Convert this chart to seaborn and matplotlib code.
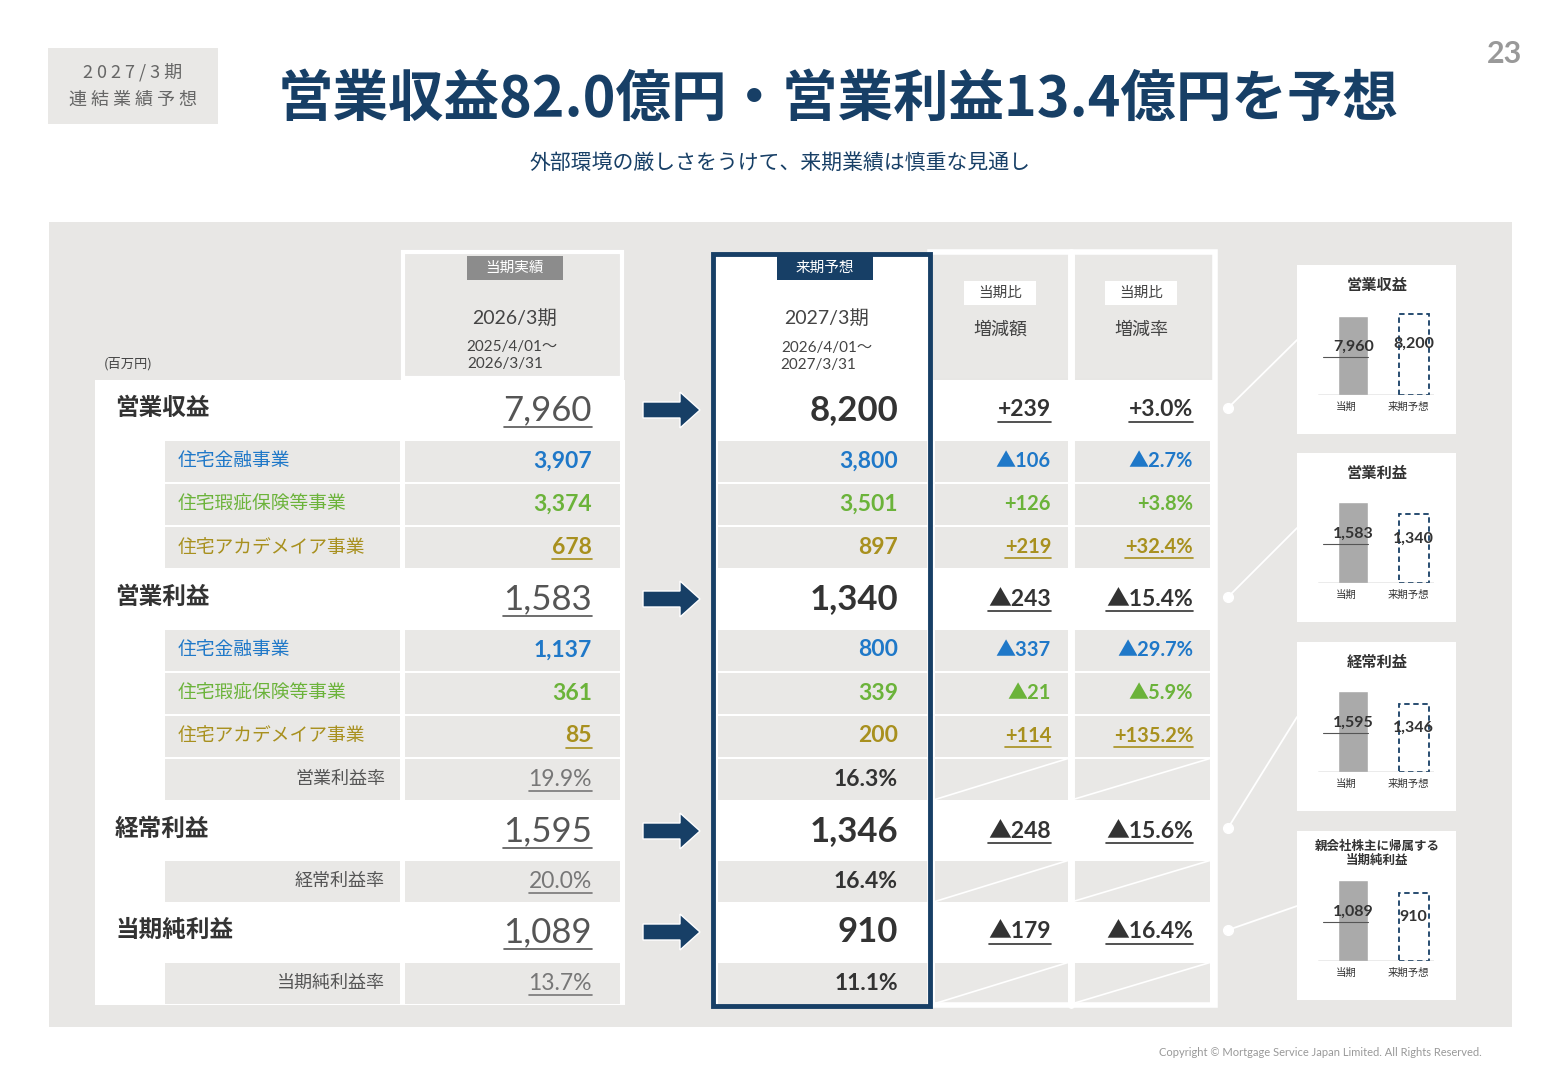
import matplotlib
matplotlib.use("Agg")
import matplotlib.pyplot as plt
import seaborn as sns
import pandas as pd
from matplotlib.patches import Rectangle, Polygon

sns.set_theme(style="white")
plt.rcParams['font.family'] = ['Noto Sans CJK JP', 'DejaVu Sans']
NUMF = ['Lato', 'Noto Sans CJK JP', 'DejaVu Sans']

# ---- data ----
row_labels = ["営業収益", "住宅金融事業", "住宅瑕疵保険等事業", "住宅アカデメイア事業",
              "営業利益", "住宅金融事業", "住宅瑕疵保険等事業", "住宅アカデメイア事業", "営業利益率",
              "経常利益", "経常利益率", "当期純利益", "当期純利益率"]
row_kind = ["big", "sub", "sub", "sub", "big", "sub", "sub", "sub", "rate", "big", "rate", "big", "rate"]
current_vals = ["7,960", "3,907", "3,374", "678", "1,583", "1,137", "361", "85", "19.9%",
                "1,595", "20.0%", "1,089", "13.7%"]
forecast_vals = ["8,200", "3,800", "3,501", "897", "1,340", "800", "339", "200", "16.3%",
                 "1,346", "16.4%", "910", "11.1%"]
diff_vals = ["+239", "▲106", "+126", "+219", "▲243", "▲337", "▲21", "+114", "", "▲248", "", "▲179", ""]
rate_vals = ["+3.0%", "▲2.7%", "+3.8%", "+32.4%", "▲15.4%", "▲29.7%", "▲5.9%", "+135.2%", "",
             "▲15.6%", "", "▲16.4%", ""]
mini_titles = ["営業収益", "営業利益", "経常利益", "親会社株主に帰属する\n当期純利益"]
mini_current = [7960, 1583, 1595, 1089]
mini_forecast = [8200, 1340, 1346, 910]
mini_cur_lbl = ["7,960", "1,583", "1,595", "1,089"]
mini_fc_lbl = ["8,200", "1,340", "1,346", "910"]

NAVY = "#173f66"; BLUE = "#1f78c8"; GREEN = "#6bb33a"; GOLD = "#a8901e"
DARK = "#333333"; GRAY = "#666666"; BG = "#e8e7e5"; CELL = "#e9e8e6"
seg_colors = {1: BLUE, 2: GREEN, 3: GOLD, 5: BLUE, 6: GREEN, 7: GOLD}
row_centers = [410, 461, 504, 547, 599, 650, 693, 736, 779, 831, 881, 932, 983]

W, H = 1560, 1080
fig = plt.figure(figsize=(15.6, 10.8), dpi=100)
ax = fig.add_axes([0, 0, 1, 1])
ax.set_xlim(0, W); ax.set_ylim(H, 0); ax.axis("off")
under_list = []

def rect(x0, y0, x1, y1, fc, ec="none", lw=0, z=1):
    ax.add_patch(Rectangle((x0, y0), x1 - x0, y1 - y0, fc=fc, ec=ec, lw=lw, zorder=z))

def txt(x, y, s, size, color=DARK, ha="center", weight="normal", under=False, z=5, num=False, **kw):
    if num:
        kw["family"] = NUMF
    t = ax.text(x, y, s, fontsize=size, color=color, ha=ha, va="center", weight=weight, zorder=z, **kw)
    if under:
        under_list.append((t, color, size))
    return t

# header
rect(48, 48, 218, 124, "#e9e8e6")
txt(133, 72, "2 0 2 7 / 3 期", 13, GRAY)
txt(133, 100, "連 結 業 績 予 想", 13, GRAY)
txt(838, 100, "営業収益82.0億円・営業利益13.4億円を予想", 40, NAVY, weight="bold")
txt(780, 163, "外部環境の厳しさをうけて、来期業績は慎重な見通し", 15, NAVY)
txt(1505, 54, "23", 22, "#999999", weight="bold", num=True)
txt(1320, 1053, "Copyright © Mortgage Service Japan Limited. All Rights Reserved.", 8, "#999999", num=True)

# panel
rect(49, 222, 1512, 1027, BG)
rect(95, 380, 625, 1005, "white")
rect(403, 252, 622, 378, CELL)
rect(403, 252, 622, 378, "none", ec="white", lw=3, z=2)
rect(932, 380, 1213, 1005, "white")
rect(935, 255, 1068, 378, CELL); rect(1073, 255, 1210, 378, CELL)
rect(930, 252, 1215, 1005, "none", ec="white", lw=4, z=2)
ax.plot([1070.5, 1070.5], [252, 1005], color="white", lw=5, zorder=2)
rect(715, 255, 928, 1005, "white")

# headers text
rect(467, 256, 563, 280, "#8c8c8c", z=3); txt(515, 268, "当期実績", 10.5, "white")
txt(515, 318, "2026/3期", 14, "#444444", num=True)
txt(512, 347, "2025/4/01～", 11, "#444444", num=True); txt(505, 364, "2026/3/31", 11, "#444444", num=True)
rect(777, 256, 873, 280, NAVY, z=3); txt(825, 268, "来期予想", 10.5, "white")
txt(827, 318, "2027/3期", 14, "#444444", num=True)
txt(827, 348, "2026/4/01～", 11, "#444444", num=True); txt(818, 365, "2027/3/31", 11, "#444444", num=True)
for cx, lab in [(1000, "増減額"), (1141, "増減率")]:
    rect(cx - 36, 281, cx + 36, 305, "white", z=3); txt(cx, 293, "当期比", 10.5, "#444444")
    txt(cx, 330, lab, 13, "#444444")
txt(128, 364, "(百万円)", 9.5, "#444444")

for i, (lab, kind) in enumerate(zip(row_labels, row_kind)):
    yc = row_centers[i]
    h = 60 if kind == "big" else 41
    y0, y1 = yc - h / 2, yc + h / 2
    col = seg_colors.get(i, DARK)
    if kind == "big":
        txt(115, yc - 2, lab, 17, DARK, ha="left", weight="bold")
        txt(592, yc, current_vals[i], 25, "#555555", ha="right", under=True, num=True)
        txt(898, yc, forecast_vals[i], 25, DARK, ha="right", weight="bold", num=True)
        txt(1051, yc, diff_vals[i], 16.5, DARK, ha="right", weight="bold", under=True, num=True)
        txt(1193, yc, rate_vals[i], 16.5, DARK, ha="right", weight="bold", under=True, num=True)
        ax.add_patch(Polygon([(643, yc - 8), (680, yc - 8), (680, yc - 18), (700, yc),
                              (680, yc + 18), (680, yc + 8), (643, yc + 8)], fc=NAVY, zorder=3))
    else:
        rect(165, y0, 400, y1, CELL); rect(405, y0, 620, y1, CELL)
        rect(718, y0, 928, y1, CELL)
        rect(935, y0, 1068, y1, CELL); rect(1073, y0, 1210, y1, CELL)
        if kind == "sub":
            txt(178, yc, lab, 13.5, col, ha="left")
            und = i in (3, 7)
            txt(592, yc, current_vals[i], 16.5, col, ha="right", weight="bold", under=und, num=True)
            txt(898, yc, forecast_vals[i], 16.5, col, ha="right", weight="bold", num=True)
            txt(1051, yc, diff_vals[i], 14.5, col, ha="right", weight="bold", under=und, num=True)
            txt(1193, yc, rate_vals[i], 14.5, col, ha="right", weight="bold", under=und, num=True)
        else:
            txt(385, yc, lab, 13, "#555555", ha="right")
            txt(592, yc, current_vals[i], 16.5, "#777777", ha="right", under=True, num=True)
            txt(898, yc, forecast_vals[i], 16.5, DARK, ha="right", weight="bold", num=True)
            for a, b in [(935, 1068), (1073, 1210)]:
                ax.plot([a, b], [y1, y0], color="white", lw=1.2, zorder=3)

rect(713, 254, 930, 1006, "none", ec=NAVY, lw=3.5, z=6)

# mini charts
boxes = [265, 453, 642, 831]
anchors = [408, 597, 828, 930]
for j, top in enumerate(boxes):
    rect(1297, top, 1456, top + 169, "white")
    ty = top + 20 if j < 3 else top + 22
    txt(1377, ty, mini_titles[j], 11 if j < 3 else 9, DARK, weight="bold", linespacing=1.1)
    ax.plot([1228, 1297], [anchors[j], top + 75], color="white", lw=1.3, zorder=2)
    ax.plot(1228, anchors[j], "o", color="white", ms=7, zorder=2)
    base = top + 130
    iax = fig.add_axes([1318 / W, 1 - base / H, 116 / W, 85 / H])
    iax.patch.set_alpha(0)
    df = pd.DataFrame({"p": ["当期", "来期予想"], "v": [mini_current[j], mini_forecast[j]]})
    sns.barplot(data=df, x="p", y="v", ax=iax, width=0.5, color="#aaaaaa", saturation=1)
    bars = iax.patches
    bars[1].set_facecolor("none"); bars[1].set_edgecolor(NAVY)
    bars[1].set_linestyle((0, (3, 2))); bars[1].set_linewidth(1.3)
    top_v = max(mini_current[j], mini_forecast[j]) * 1.05
    iax.set_ylim(0, top_v)
    iax.axis("off")
    iax.axhline(0, color="#999999", lw=1)
    iax.plot([-0.5, 0.25], [mini_current[j] * 0.48, mini_current[j] * 0.48], color="#555555", lw=0.8)
    iax.text(0, mini_current[j] * 0.52, mini_cur_lbl[j], ha="center", va="bottom", fontsize=11.5,
             weight="bold", color=DARK, family=NUMF, zorder=5)
    iax.text(1, mini_forecast[j] * 0.55, mini_fc_lbl[j], ha="center", va="bottom", fontsize=11.5,
             weight="bold", color=DARK, family=NUMF, zorder=5)
    txt(1346, base + 12, "当期", 7.5, DARK)
    txt(1408, base + 12, "来期予想", 7.5, DARK)

# underlines from real text extents
fig.canvas.draw()
r = fig.canvas.get_renderer()
inv = ax.transData.inverted()
for t, c, s in under_list:
    bb = t.get_window_extent(r)
    (x0, ya), (x1, yb) = inv.transform([(bb.x0, bb.y0), (bb.x1, bb.y1)])
    yl = max(ya, yb) + 1
    ax.plot([x0, x1], [yl, yl], color=c, lw=1.2, zorder=5)

fig.savefig("out.png", dpi=100, facecolor="white")
